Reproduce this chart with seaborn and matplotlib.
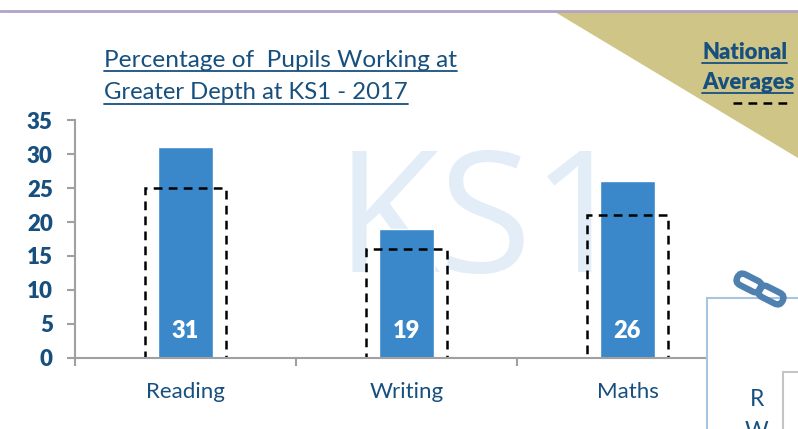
import matplotlib
matplotlib.use('Agg')
import matplotlib.pyplot as plt
from matplotlib.patches import Polygon, Rectangle, FancyBboxPatch
from matplotlib.transforms import Affine2D
import pandas as pd
import seaborn as sns

subjects = ['Reading', 'Writing', 'Maths']
school = [31, 19, 26]
national = [25, 16, 21]
yticks = [0, 5, 10, 15, 20, 25, 30, 35]

NAVY = '#17507F'
GREY = '#A0A0A0'
W, H = 798, 429

sns.set_theme(style='white')
plt.rcParams['font.family'] = ['Lato', 'DejaVu Sans']

df = pd.DataFrame({'subject': subjects, 'school': school, 'national': national})

fig = plt.figure(figsize=(W / 100, H / 100), dpi=100, facecolor='white')

# background layer, pixel coords
bg = fig.add_axes([0, 0, 1, 1], zorder=0)
bg.set_xlim(0, W)
bg.set_ylim(H, 0)
bg.axis('off')
bg.add_patch(Polygon([(555, 12), (W, 12), (W, 158)], color='#CFC587', lw=0))
bg.plot([0, W], [11, 11], color='#B3A2C7', lw=2)
bg.text(482, 272, 'KS1', color='#E3EDF7', fontsize=122, fontweight='normal',
        family='Open Sans', ha='center', va='baseline')

# the chart
ax = fig.add_axes([75 / W, (H - 358) / H, (738 - 75) / W, (358 - 120) / H], zorder=1)
ax.patch.set_alpha(0)
sns.barplot(data=df, x='subject', y='school', color='#3A88CA', width=0.252,
            saturation=1, ax=ax)
sns.barplot(data=df, x='subject', y='national', width=0.37, fill=False,
            color='black', linewidth=1.8, linestyle=(0, (3.5, 2.5)), saturation=1, ax=ax)
ax.set_xlim(-0.5, 2.5)
ax.set_ylim(0, 35)
ax.set_xlabel('')
ax.set_ylabel('')
ax.set_yticks(yticks)
ax.set_yticklabels(yticks, fontsize=16, fontweight='heavy', color=NAVY)
ax.set_xticks([-0.5, 0.5, 1.5, 2.5])
ax.set_xticklabels([])
ax.set_xticks([0, 1, 2], minor=True)
ax.set_xticklabels(subjects, minor=True, fontsize=16, color=NAVY)
ax.tick_params(axis='x', which='major', length=6, width=1.5, color=GREY, bottom=True)
ax.tick_params(axis='x', which='minor', length=0, pad=17, bottom=True)
ax.tick_params(axis='y', length=6, width=1.5, color=GREY, pad=10, left=True)
for s in ['top', 'right']:
    ax.spines[s].set_visible(False)
for s in ['left', 'bottom']:
    ax.spines[s].set_color(GREY)
    ax.spines[s].set_linewidth(1.5)
for i, v in enumerate(school):
    ax.text(i - 0.002, 4, str(v), color='white', fontsize=17, fontweight='heavy',
            ha='center', va='center')

# top layer, pixel coords
fg = fig.add_axes([0, 0, 1, 1], zorder=2)
fg.set_xlim(0, W)
fg.set_ylim(H, 0)
fg.axis('off')
fg.patch.set_alpha(0)

fg.text(104, 67, 'Percentage of  Pupils Working at', fontsize=17.6, color=NAVY, va='baseline')
fg.text(104, 99, 'Greater Depth at KS1 - 2017', fontsize=17.2, color=NAVY, va='baseline')
fg.plot([104, 457], [70.5, 70.5], color=NAVY, lw=1.3)
fg.plot([104, 408], [103.5, 103.5], color=NAVY, lw=1.3)

fg.text(702, 59, 'National', fontsize=15.8, fontweight='heavy', color=NAVY, va='baseline')
fg.text(702, 89, 'Averages', fontsize=15.8, fontweight='heavy', color=NAVY, va='baseline')
fg.plot([702, 787], [62.5, 62.5], color=NAVY, lw=1.3)
fg.plot([702, 793], [92.5, 92.5], color=NAVY, lw=1.3)
fg.plot([733, 793], [103, 103], color='black', lw=1.8, ls=(0, (3.5, 2.5)))

# boxes at the bottom right
fg.add_patch(Rectangle((707, 298), 120, 160, facecolor='white', edgecolor='#A9C4E0', lw=1.5))
fg.add_patch(Rectangle((783, 372), 40, 80, facecolor='white', edgecolor='#C4C4C4', lw=1.5))
fg.text(757, 400, 'R', fontsize=16.5, color=NAVY, ha='center', va='center')
fg.text(757, 431, 'W', fontsize=16.5, color=NAVY, ha='center', va='center', clip_on=True)

# link icon
for cx, cy in [(749, 283), (771, 295)]:
    rot = Affine2D().rotate_deg_around(cx, cy, 27) + fg.transData
    fg.add_patch(FancyBboxPatch((cx - 13, cy - 6), 26, 12,
                                boxstyle='round,pad=0,rounding_size=6',
                                facecolor='none', edgecolor='#4F81B0', lw=4.6, transform=rot))

fig.savefig('out.png', dpi=100)
